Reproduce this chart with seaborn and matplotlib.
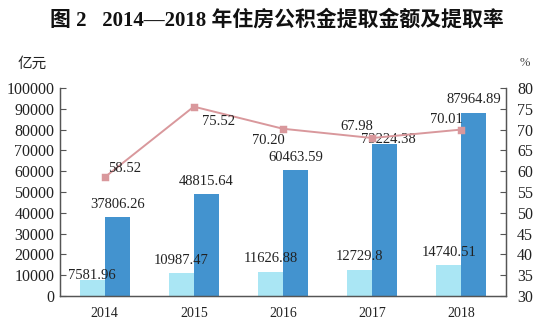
import matplotlib
matplotlib.use("Agg")
import matplotlib.pyplot as plt
import seaborn as sns
import pandas as pd
from matplotlib.ticker import MultipleLocator, FixedLocator

# ---- data ----
years = ["2014", "2015", "2016", "2017", "2018"]
series_light = [7581.96, 10987.47, 11626.88, 12729.8, 14740.51]
series_dark = [37806.26, 48815.64, 60463.59, 73224.38, 87964.89]
rates = [58.52, 75.52, 70.20, 67.98, 70.01]
light_labels = ["7581.96", "10987.47", "11626.88", "12729.8", "14740.51"]
dark_labels = ["37806.26", "48815.64", "60463.59", "73224.38", "87964.89"]
rate_labels = ["58.52", "75.52", "70.20", "67.98", "70.01"]
title = "图 2   2014—2018 年住房公积金提取金额及提取率"
left_unit = "亿元"
right_unit = "%"

df = pd.DataFrame({
    "year": years * 2,
    "value": series_light + series_dark,
    "series": ["a"] * len(years) + ["b"] * len(years),
})

# ---- style ----
sns.set_style("white")
NUM = ["Liberation Serif", "Noto Sans CJK SC"]
plt.rcParams["font.family"] = NUM
light_c = "#aae6f4"
dark_c = "#4393cf"
line_c = "#d9989c"
spine_c = "#555555"

fig = plt.figure(figsize=(5.5, 3.24), dpi=100)
ax = fig.add_axes([60 / 550, 1 - 296 / 324, 446 / 550, 208 / 324])

sns.barplot(data=df, x="year", y="value", hue="series",
            palette=[light_c, dark_c], width=0.56, gap=0,
            legend=False, ax=ax, saturation=1, linewidth=0, edgecolor="none")
ax.set_xlim(-0.5, 4.5)
ax.set_ylim(0, 100000)
ax.yaxis.set_major_locator(MultipleLocator(10000))
ax.set_xlabel("")
ax.set_ylabel("")

ax2 = ax.twinx()
sns.pointplot(x=years, y=rates, ax=ax2, color=line_c, markers="s",
              markersize=4, linewidth=1.4)
ax2.set_xlim(-0.5, 4.5)
ax2.set_ylim(30, 80)
ax2.yaxis.set_major_locator(MultipleLocator(5))
ax2.set_ylabel("")

for a in (ax, ax2):
    for s in a.spines.values():
        s.set_color(spine_c)
        s.set_linewidth(0.9)
    a.spines["top"].set_visible(False)
    a.grid(False)

ax.tick_params(axis="y", direction="in", length=4, width=0.8, color=spine_c,
               labelsize=11.5, pad=4, labelcolor="#222222")
ax2.tick_params(axis="y", direction="in", length=4, width=0.8, color=spine_c,
                labelsize=11.5, pad=8, labelcolor="#222222")
ax.tick_params(axis="x", which="major", length=0, labelsize=10, pad=8,
               labelcolor="#222222")
ax.xaxis.set_minor_locator(FixedLocator([0.5, 1.5, 2.5, 3.5]))
ax.tick_params(axis="x", which="minor", direction="in", length=4, width=0.8,
               color=spine_c)
ax2.tick_params(axis="x", length=0)

# bar labels
light_dy = [3.6, 9.4, 9.4, 9.4, 9.4]
dark_dy = [9.4, 9.4, 9.4, 2.9, 9.4]
dark_dx = [0, 0, 0, 3, 0]
conts = ax.containers
for bars, labs, dys, dxs in ((conts[0], light_labels, light_dy, [0] * 5),
                             (conts[1], dark_labels, dark_dy, dark_dx)):
    for p, lab, dy, dx in zip(bars.patches, labs, dys, dxs):
        ax.annotate(lab, (p.get_x() + p.get_width() / 2, p.get_height()),
                    xytext=(dx, dy), textcoords="offset points",
                    ha="center", va="center", fontsize=10.5, color="#222222")

# rate labels
rate_off = [(14.4, 6.5), (18, -10.8), (-10.8, -8.6), (-10.8, 8.6), (-10.8, 7.2)]
for i, (r, lab) in enumerate(zip(rates, rate_labels)):
    ax2.annotate(lab, (i, r), xytext=rate_off[i], textcoords="offset points",
                 ha="center", va="center", fontsize=10.5, color="#222222")

fig.text(277 / 550, 1 - 20 / 324, title, ha="center", va="center",
         fontsize=15, fontweight="bold", family=NUM, color="#111111")
fig.text(32 / 550, 1 - 64 / 324, left_unit, ha="center", va="center",
         fontsize=10.5, family=["Noto Sans CJK SC"], color="#222222")
fig.text(525 / 550, 1 - 63 / 324, right_unit, ha="center", va="center",
         fontsize=9, color="#444444")

fig.savefig("out.png", dpi=100, facecolor="white")
